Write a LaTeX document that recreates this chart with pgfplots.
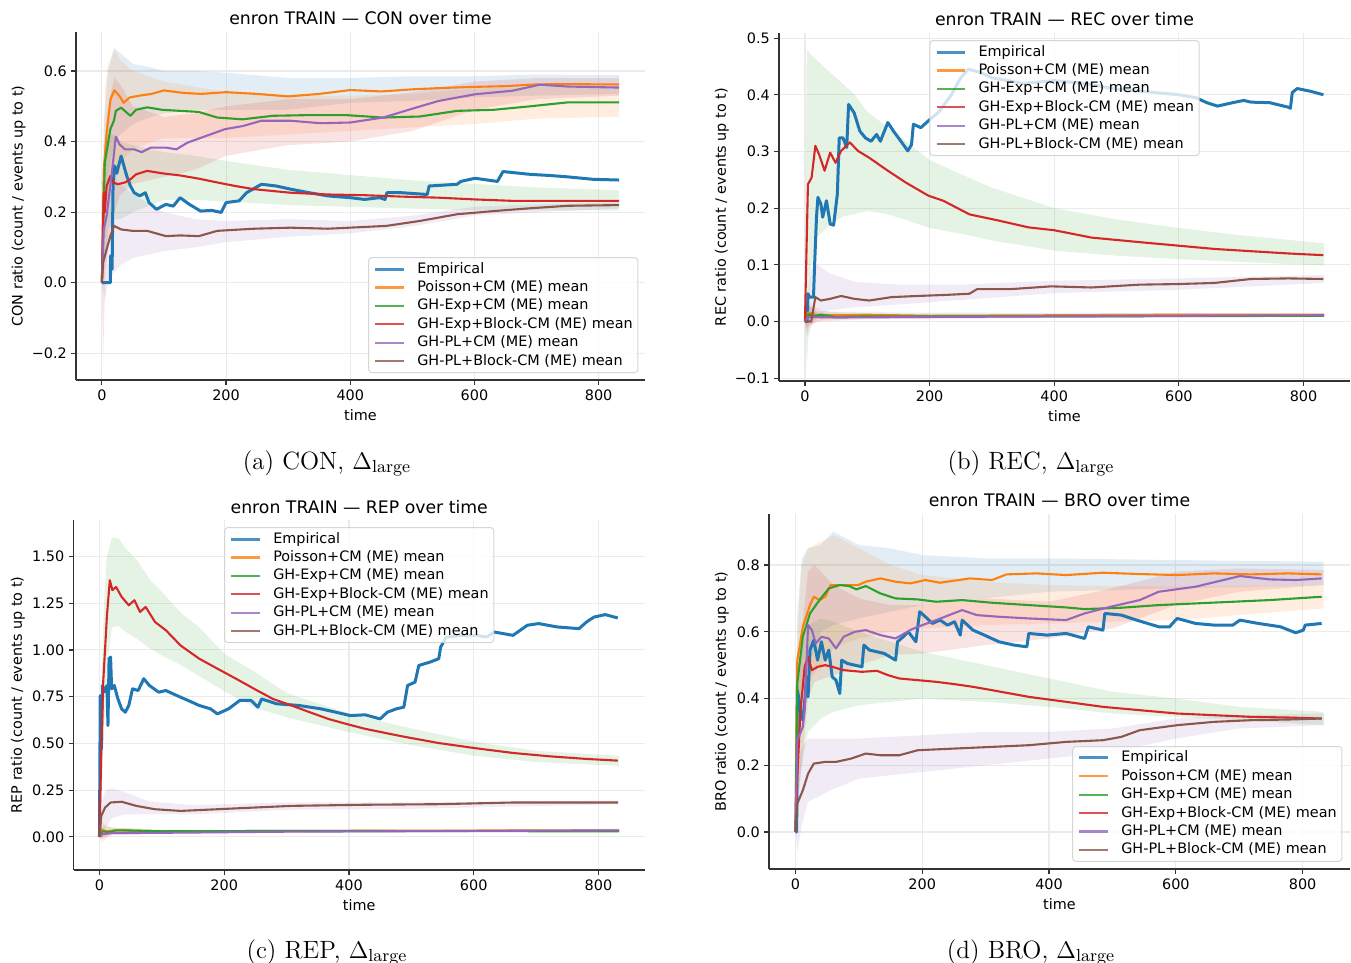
\documentclass[border=0pt]{standalone}
\usepackage{fontspec}
\usepackage{pgfplots}
\usepackage{pgfplotstable}
\pgfplotsset{compat=1.18}
\usepgfplotslibrary{fillbetween}
\newfontfamily\mpl{DejaVu Sans}

\definecolor{c0}{HTML}{1F77B4}
\definecolor{c1}{HTML}{FF7F0E}
\definecolor{c2}{HTML}{2CA02C}
\definecolor{c3}{HTML}{D62728}
\definecolor{c4}{HTML}{9467BD}
\definecolor{c5}{HTML}{8C564B}

\newcommand{\mplsize}{\mpl\fontsize{7.2}{8.6}\selectfont}

% ---------------- CON ----------------
\pgfplotstableread[row sep=\\]{
x y\\ 0 0\\ 13.7 0\\ 14 0.076\\ 16.5 0.038\\ 18 0.274\\ 20.5 0.331\\ 24 0.31\\ 31 0.359\\ 35.5 0.331\\ 40 0.303\\ 46 0.274\\ 52 0.255\\ 61 0.246\\ 70 0.255\\ 76 0.227\\ 88 0.208\\ 103 0.222\\ 115 0.217\\ 126 0.241\\ 141 0.222\\ 159 0.203\\ 177 0.205\\ 192 0.199\\ 200 0.227\\ 221 0.232\\ 233 0.255\\ 257 0.279\\ 281 0.274\\ 304 0.265\\ 334 0.255\\ 364 0.246\\ 400 0.241\\ 423 0.236\\ 447 0.241\\ 456 0.236\\ 459 0.255\\ 483 0.255\\ 524 0.250\\ 527 0.274\\ 572 0.279\\ 578 0.287\\ 601 0.296\\ 637 0.287\\ 646 0.315\\ 690 0.307\\ 720 0.304\\ 750 0.300\\ 791 0.293\\ 833 0.291\\
}\aEmp
\pgfplotstableread[row sep=\\]{
x y\\ 0 0\\ 3 0.32\\ 8 0.43\\ 14 0.52\\ 20 0.545\\ 28 0.53\\ 35 0.51\\ 45 0.525\\ 60 0.53\\ 80 0.535\\ 100 0.545\\ 130 0.538\\ 160 0.535\\ 200 0.54\\ 250 0.535\\ 300 0.528\\ 350 0.535\\ 400 0.546\\ 450 0.542\\ 500 0.548\\ 550 0.552\\ 600 0.555\\ 650 0.557\\ 700 0.562\\ 750 0.563\\ 800 0.562\\ 833 0.562\\
}\aPois
\pgfplotstableread[row sep=\\]{
x lo hi\\ 0 0 0\\ 3 0.15 0.45\\ 10 0.30 0.60\\ 20 0.40 0.665\\ 30 0.42 0.65\\ 50 0.45 0.62\\ 80 0.47 0.61\\ 100 0.48 0.60\\ 150 0.49 0.60\\ 200 0.49 0.595\\ 300 0.49 0.58\\ 400 0.51 0.58\\ 500 0.515 0.585\\ 600 0.525 0.585\\ 700 0.53 0.59\\ 833 0.535 0.588\\
}\aPoisB
\pgfplotstableread[row sep=\\]{
x y\\ 0 0\\ 4.7 0.34\\ 13.7 0.435\\ 19.6 0.46\\ 22.5 0.487\\ 31 0.496\\ 46 0.473\\ 55 0.49\\ 73 0.497\\ 97 0.49\\ 126 0.487\\ 156 0.484\\ 186 0.468\\ 227 0.463\\ 275 0.473\\ 334 0.475\\ 393 0.475\\ 453 0.468\\ 512 0.471\\ 572 0.487\\ 631 0.49\\ 690 0.50\\ 750 0.511\\ 833 0.511\\
}\aExp
\pgfplotstableread[row sep=\\]{
x lo hi\\ 0 0 0\\ 5 0.1 0.55\\ 10 0.25 0.62\\ 20 0.30 0.66\\ 30 0.34 0.63\\ 50 0.38 0.60\\ 100 0.41 0.57\\ 200 0.41 0.54\\ 300 0.42 0.53\\ 400 0.43 0.53\\ 500 0.44 0.535\\ 600 0.45 0.55\\ 700 0.465 0.555\\ 833 0.47 0.56\\
}\aExpB
\pgfplotstableread[row sep=\\]{
x y\\ 0 0\\ 3 0.255\\ 4.7 0.20\\ 7.7 0.274\\ 13.7 0.303\\ 18.4 0.284\\ 25.5 0.279\\ 37 0.284\\ 46 0.293\\ 55 0.307\\ 73 0.317\\ 97 0.31\\ 126 0.304\\ 156 0.295\\ 186 0.284\\ 215 0.274\\ 245 0.265\\ 304 0.255\\ 364 0.25\\ 423 0.248\\ 483 0.244\\ 542 0.241\\ 601 0.236\\ 661 0.232\\ 720 0.232\\ 833 0.232\\
}\aExpBl
\pgfplotstableread[row sep=\\]{
x lo hi\\ 0 0 0\\ 5 0.05 0.40\\ 10 0.15 0.42\\ 20 0.18 0.42\\ 30 0.18 0.40\\ 50 0.20 0.39\\ 100 0.235 0.37\\ 150 0.235 0.36\\ 200 0.23 0.345\\ 300 0.22 0.32\\ 400 0.215 0.305\\ 500 0.21 0.29\\ 600 0.205 0.28\\ 700 0.205 0.27\\ 833 0.205 0.262\\
}\aExpBlB
\pgfplotstableread[row sep=\\]{
x y\\ 0 0\\ 3 0.15\\ 7.7 0.189\\ 16.6 0.32\\ 22.5 0.414\\ 28.5 0.392\\ 37 0.378\\ 52 0.378\\ 64 0.37\\ 79 0.383\\ 103 0.383\\ 120 0.378\\ 138 0.397\\ 168 0.416\\ 198 0.435\\ 227 0.444\\ 257 0.459\\ 304 0.459\\ 352 0.452\\ 400 0.454\\ 453 0.468\\ 494 0.49\\ 542 0.515\\ 601 0.534\\ 661 0.544\\ 705 0.561\\ 750 0.556\\ 833 0.553\\
}\aPL
\pgfplotstableread[row sep=\\]{
x lo hi\\ 0 0 0\\ 2 -0.23 0.3\\ 5 0.0 0.4\\ 10 0.1 0.5\\ 20 0.2 0.58\\ 30 0.25 0.56\\ 50 0.28 0.50\\ 100 0.30 0.47\\ 150 0.32 0.48\\ 200 0.36 0.50\\ 300 0.39 0.52\\ 400 0.40 0.52\\ 500 0.43 0.54\\ 600 0.49 0.57\\ 700 0.52 0.58\\ 833 0.53 0.58\\
}\aPLB
\pgfplotstableread[row sep=\\]{
x y\\ 0 0\\ 2 0.057\\ 7.7 0.095\\ 13.7 0.132\\ 19.6 0.161\\ 31 0.151\\ 49 0.147\\ 73 0.147\\ 103 0.132\\ 126 0.134\\ 156 0.132\\ 186 0.147\\ 245 0.153\\ 304 0.156\\ 364 0.153\\ 423 0.158\\ 458 0.161\\ 512 0.175\\ 572 0.194\\ 631 0.203\\ 690 0.211\\ 750 0.218\\ 833 0.22\\
}\aPLBl
\pgfplotstableread[row sep=\\]{
x lo hi\\ 0 0 0\\ 5 -0.05 0.25\\ 10 0.0 0.30\\ 20 0.03 0.30\\ 30 0.05 0.28\\ 50 0.07 0.25\\ 100 0.09 0.20\\ 150 0.10 0.18\\ 200 0.115 0.175\\ 300 0.13 0.18\\ 400 0.14 0.175\\ 500 0.16 0.19\\ 600 0.19 0.215\\ 700 0.20 0.222\\ 833 0.21 0.228\\
}\aPLBlB

% ---------------- REC ----------------
\pgfplotstableread[row sep=\\]{
x y\\ 0 0\\ 3.5 0\\ 4.8 0.049\\ 7.7 0.043\\ 13.7 0.043\\ 15.5 0.10\\ 18.5 0.184\\ 20.8 0.219\\ 25.6 0.207\\ 28.5 0.184\\ 34.5 0.213\\ 40.5 0.172\\ 46 0.170\\ 52 0.225\\ 55 0.324\\ 61 0.324\\ 67 0.307\\ 70 0.383\\ 79 0.368\\ 88 0.336\\ 97 0.324\\ 106 0.318\\ 115 0.330\\ 121 0.318\\ 133 0.351\\ 142 0.336\\ 154 0.318\\ 165 0.301\\ 171 0.312\\ 174 0.348\\ 186 0.342\\ 198 0.354\\ 215 0.37\\ 235 0.40\\ 250 0.43\\ 262 0.445\\ 280 0.44\\ 300 0.43\\ 350 0.42\\ 400 0.425\\ 450 0.42\\ 500 0.41\\ 550 0.405\\ 600 0.40\\ 627 0.395\\ 645 0.386\\ 662 0.38\\ 686 0.386\\ 704 0.39\\ 716 0.387\\ 746 0.386\\ 776 0.378\\ 779 0.376\\ 782 0.404\\ 790 0.411\\ 812 0.406\\ 832 0.40\\
}\bEmp
\pgfplotstableread[row sep=\\]{
x y\\ 0 0\\ 4.8 0.016\\ 20 0.011\\ 60 0.011\\ 97 0.012\\ 200 0.010\\ 400 0.011\\ 600 0.012\\ 833 0.012\\
}\bPois
\pgfplotstableread[row sep=\\]{
x lo hi\\ 0 0 0\\ 5 0.0 0.03\\ 20 0.005 0.018\\ 100 0.008 0.016\\ 833 0.010 0.014\\
}\bPoisB
\pgfplotstableread[row sep=\\]{
x y\\ 0 0\\ 4.8 0.013\\ 13.7 0.009\\ 25.6 0.012\\ 49 0.008\\ 100 0.009\\ 400 0.009\\ 833 0.010\\
}\bExp
\pgfplotstableread[row sep=\\]{
x lo hi\\ 0 0 0\\ 3 -0.02 0.04\\ 10 -0.005 0.03\\ 30 0.003 0.018\\ 100 0.006 0.013\\ 833 0.008 0.012\\
}\bExpB
\pgfplotstableread[row sep=\\]{
x y\\ 0 0\\ 4.8 0.242\\ 10.7 0.254\\ 16.7 0.31\\ 22.6 0.295\\ 31.5 0.266\\ 40.5 0.298\\ 49 0.28\\ 58 0.301\\ 72 0.316\\ 85 0.301\\ 103 0.289\\ 133 0.266\\ 162 0.245\\ 198 0.222\\ 222 0.213\\ 264 0.189\\ 311 0.178\\ 359 0.166\\ 400 0.161\\ 460 0.148\\ 537 0.14\\ 597 0.134\\ 657 0.128\\ 716 0.124\\ 776 0.12\\ 832 0.117\\
}\bExpBl
\pgfplotstableread[row sep=\\]{
x lo hi\\ 0 0 0\\ 3 -0.08 0.48\\ 10 0.10 0.47\\ 20 0.15 0.46\\ 40 0.17 0.44\\ 60 0.185 0.42\\ 80 0.19 0.40\\ 100 0.195 0.37\\ 130 0.19 0.345\\ 160 0.18 0.32\\ 200 0.165 0.285\\ 250 0.155 0.26\\ 300 0.143 0.236\\ 400 0.125 0.20\\ 500 0.116 0.18\\ 600 0.11 0.165\\ 700 0.105 0.152\\ 833 0.099 0.138\\
}\bExpBlB
\pgfplotstableread[row sep=\\]{
x y\\ 0 0\\ 4.8 0.008\\ 50 0.007\\ 200 0.008\\ 400 0.009\\ 600 0.010\\ 833 0.011\\
}\bPL
\pgfplotstableread[row sep=\\]{
x lo hi\\ 0 0 0\\ 3 -0.01 0.03\\ 20 0.0 0.015\\ 100 0.004 0.011\\ 833 0.009 0.013\\
}\bPLB
\pgfplotstableread[row sep=\\]{
x y\\ 0 0\\ 10 0.0\\ 16.7 0.043\\ 25.6 0.037\\ 40.5 0.04\\ 58 0.045\\ 79 0.04\\ 103 0.037\\ 139 0.043\\ 180 0.045\\ 228 0.047\\ 264 0.049\\ 276 0.057\\ 329 0.057\\ 395 0.062\\ 460 0.06\\ 537 0.065\\ 597 0.066\\ 657 0.068\\ 716 0.075\\ 776 0.076\\ 832 0.075\\
}\bPLBl
\pgfplotstableread[row sep=\\]{
x lo hi\\ 0 0 0\\ 5 -0.03 0.05\\ 10 -0.01 0.09\\ 20 0.01 0.10\\ 40 0.02 0.085\\ 80 0.025 0.07\\ 150 0.03 0.065\\ 250 0.038 0.065\\ 400 0.05 0.072\\ 600 0.056 0.076\\ 833 0.068 0.082\\
}\bPLBlB

% ---------------- REP ----------------
\pgfplotstableread[row sep=\\]{
x y\\ 0 0.0\\ 0.6 0.345\\ 1.2 0.756\\ 3 0.47\\ 4.7 0.81\\ 7 0.774\\ 12 0.81\\ 13.6 0.595\\ 15.4 0.953\\ 17.8 0.962\\ 19.5 0.792\\ 23.7 0.81\\ 29.6 0.738\\ 35.5 0.685\\ 41.4 0.667\\ 47 0.703\\ 53 0.792\\ 62 0.783\\ 71 0.846\\ 80 0.81\\ 95 0.774\\ 106.5 0.783\\ 124 0.756\\ 142 0.73\\ 160 0.703\\ 178 0.685\\ 189 0.658\\ 207 0.685\\ 225 0.73\\ 243 0.73\\ 254 0.694\\ 260 0.738\\ 284 0.712\\ 320 0.703\\ 355 0.685\\ 379 0.667\\ 402 0.649\\ 426 0.653\\ 450 0.631\\ 461.5 0.667\\ 476 0.685\\ 488 0.694\\ 494 0.81\\ 506 0.828\\ 512 0.917\\ 530 0.935\\ 544 0.953\\ 547 1.015\\ 556 1.069\\ 580 1.078\\ 604 1.078\\ 621 1.069\\ 633 1.096\\ 663 1.078\\ 686 1.132\\ 704 1.141\\ 734 1.123\\ 769 1.114\\ 781 1.15\\ 793 1.176\\ 811 1.189\\ 831 1.171\\
}\cEmp
\pgfplotstableread[row sep=\\]{
x y\\ 0 0\\ 3 0.04\\ 10 0.03\\ 30 0.035\\ 100 0.03\\ 300 0.032\\ 600 0.034\\ 833 0.035\\
}\cPois
\pgfplotstableread[row sep=\\]{
x lo hi\\ 0 0 0\\ 5 0.0 0.06\\ 20 0.02 0.05\\ 100 0.025 0.038\\ 833 0.032 0.038\\
}\cPoisB
\pgfplotstableread[row sep=\\]{
x y\\ 0 0\\ 5 0.03\\ 15 0.025\\ 25 0.035\\ 40 0.035\\ 100 0.03\\ 300 0.032\\ 833 0.03\\
}\cExp
\pgfplotstableread[row sep=\\]{
x lo hi\\ 0 0 0\\ 3 -0.03 0.08\\ 20 0.015 0.05\\ 100 0.025 0.036\\ 833 0.027 0.033\\
}\cExpB
\pgfplotstableread[row sep=\\]{
x y\\ 0 0\\ 3 0.47\\ 6 0.83\\ 12 1.185\\ 16.6 1.373\\ 20.7 1.32\\ 26.6 1.337\\ 35.5 1.284\\ 47 1.239\\ 56 1.266\\ 65 1.203\\ 74 1.23\\ 89 1.15\\ 106.5 1.105\\ 130 1.024\\ 160 0.953\\ 189 0.90\\ 219 0.846\\ 248 0.792\\ 278 0.738\\ 308 0.703\\ 337 0.667\\ 367 0.631\\ 396 0.604\\ 426 0.578\\ 485 0.538\\ 544 0.502\\ 604 0.474\\ 663 0.449\\ 722 0.431\\ 781 0.417\\ 831 0.408\\
}\cExpBl
\pgfplotstableread[row sep=\\]{
x lo hi\\ 0 0 0\\ 3 0.2 0.8\\ 8 0.6 1.3\\ 12 0.9 1.5\\ 20 1.12 1.6\\ 30 1.13 1.6\\ 40 1.10 1.55\\ 60 1.06 1.48\\ 80 1.01 1.38\\ 100 0.97 1.31\\ 130 0.92 1.20\\ 160 0.86 1.12\\ 200 0.78 0.98\\ 250 0.69 0.88\\ 300 0.64 0.77\\ 400 0.56 0.66\\ 500 0.49 0.58\\ 600 0.435 0.51\\ 700 0.40 0.46\\ 833 0.38 0.434\\
}\cExpBlB
\pgfplotstableread[row sep=\\]{
x y\\ 0 0\\ 5 0.015\\ 20 0.02\\ 100 0.022\\ 300 0.028\\ 600 0.032\\ 833 0.035\\
}\cPL
\pgfplotstableread[row sep=\\]{
x lo hi\\ 0 0 0\\ 5 -0.01 0.04\\ 20 0.01 0.03\\ 100 0.018 0.027\\ 833 0.032 0.038\\
}\cPLB
\pgfplotstableread[row sep=\\]{
x y\\ 0 0\\ 3 0.113\\ 9 0.157\\ 17.8 0.184\\ 35.5 0.188\\ 59 0.166\\ 89 0.148\\ 130 0.139\\ 189 0.148\\ 248 0.157\\ 308 0.166\\ 426 0.172\\ 544 0.175\\ 663 0.184\\ 831 0.184\\
}\cPLBl
\pgfplotstableread[row sep=\\]{
x lo hi\\ 0 0 0\\ 5 0.0 0.2\\ 10 0.05 0.25\\ 20 0.10 0.26\\ 40 0.12 0.24\\ 80 0.12 0.19\\ 150 0.12 0.17\\ 300 0.145 0.185\\ 500 0.15 0.185\\ 833 0.175 0.195\\
}\cPLBlB

% ---------------- BRO ----------------
\pgfplotstableread[row sep=\\]{
x y\\ 0 0\\ 2 0.0\\ 3 0.425\\ 5 0.405\\ 8 0.36\\ 11.7 0.335\\ 15 0.40\\ 17.5 0.465\\ 20 0.405\\ 23 0.545\\ 29 0.575\\ 35 0.515\\ 41 0.57\\ 47 0.515\\ 52.6 0.545\\ 58 0.465\\ 64 0.455\\ 70 0.415\\ 73 0.515\\ 82 0.505\\ 93.5 0.50\\ 105 0.495\\ 108 0.56\\ 117 0.545\\ 128.6 0.54\\ 140 0.535\\ 158 0.515\\ 161 0.57\\ 170 0.585\\ 178 0.60\\ 190 0.57\\ 196 0.66\\ 205 0.645\\ 216 0.625\\ 228 0.635\\ 240 0.62\\ 251 0.63\\ 260 0.59\\ 263 0.635\\ 280 0.605\\ 298 0.59\\ 321 0.57\\ 345 0.56\\ 365 0.555\\ 368 0.595\\ 397 0.59\\ 427 0.595\\ 456 0.58\\ 462 0.615\\ 485 0.605\\ 488 0.655\\ 514 0.65\\ 538 0.635\\ 573 0.615\\ 590 0.615\\ 602 0.64\\ 631 0.625\\ 660 0.62\\ 690 0.62\\ 701 0.635\\ 730 0.625\\ 765 0.615\\ 789 0.597\\ 801 0.605\\ 804 0.62\\ 830 0.625\\
}\dEmp
\pgfplotstableread[row sep=\\]{
x y\\ 0 0\\ 3 0.515\\ 11.7 0.615\\ 23 0.68\\ 29 0.705\\ 38 0.695\\ 47 0.705\\ 55.5 0.74\\ 76 0.74\\ 99 0.74\\ 111 0.75\\ 134 0.76\\ 158 0.75\\ 181 0.745\\ 205 0.755\\ 228 0.747\\ 275 0.76\\ 310 0.755\\ 333 0.772\\ 380 0.775\\ 427 0.77\\ 485 0.777\\ 543 0.773\\ 602 0.77\\ 660 0.775\\ 719 0.772\\ 777 0.775\\ 830 0.772\\
}\dPois
\pgfplotstableread[row sep=\\]{
x lo hi\\ 0 0 0\\ 3 0.3 0.65\\ 10 0.45 0.82\\ 20 0.50 0.85\\ 40 0.60 0.86\\ 60 0.62 0.90\\ 100 0.64 0.86\\ 150 0.66 0.85\\ 200 0.68 0.83\\ 300 0.70 0.82\\ 400 0.72 0.82\\ 600 0.73 0.815\\ 833 0.74 0.81\\
}\dPoisB
\pgfplotstableread[row sep=\\]{
x y\\ 0 0\\ 3 0.445\\ 11.7 0.585\\ 23 0.655\\ 38 0.695\\ 52.6 0.73\\ 70 0.74\\ 85 0.737\\ 96 0.727\\ 111 0.737\\ 134 0.715\\ 158 0.70\\ 193 0.697\\ 222 0.69\\ 263 0.695\\ 310 0.687\\ 368 0.68\\ 427 0.673\\ 456 0.668\\ 514 0.672\\ 573 0.68\\ 631 0.685\\ 690 0.69\\ 748 0.695\\ 830 0.705\\
}\dExp
\pgfplotstableread[row sep=\\]{
x lo hi\\ 0 0 0\\ 3 0.25 0.6\\ 10 0.40 0.80\\ 20 0.45 0.85\\ 40 0.50 0.87\\ 60 0.55 0.89\\ 100 0.58 0.85\\ 150 0.60 0.80\\ 200 0.61 0.77\\ 300 0.62 0.75\\ 400 0.625 0.74\\ 600 0.635 0.735\\ 833 0.67 0.74\\
}\dExpB
\pgfplotstableread[row sep=\\]{
x y\\ 0 0\\ 3 0.165\\ 8 0.365\\ 14.6 0.495\\ 20 0.525\\ 26 0.485\\ 35 0.495\\ 47 0.50\\ 58 0.495\\ 76 0.485\\ 105 0.48\\ 128.6 0.483\\ 146 0.47\\ 164 0.46\\ 193 0.455\\ 222 0.45\\ 251 0.443\\ 280 0.435\\ 310 0.425\\ 368 0.405\\ 427 0.39\\ 485 0.375\\ 543 0.365\\ 602 0.355\\ 660 0.35\\ 719 0.345\\ 777 0.343\\ 830 0.34\\
}\dExpBl
\pgfplotstableread[row sep=\\]{
x lo hi\\ 0 0 0\\ 3 0.05 0.4\\ 10 0.2 0.55\\ 20 0.3 0.62\\ 40 0.34 0.64\\ 60 0.36 0.63\\ 100 0.38 0.60\\ 150 0.39 0.57\\ 200 0.40 0.54\\ 300 0.39 0.50\\ 400 0.375 0.46\\ 500 0.355 0.42\\ 600 0.345 0.40\\ 700 0.335 0.375\\ 833 0.32 0.36\\
}\dExpBlB
\pgfplotstableread[row sep=\\]{
x y\\ 0 0\\ 3 0.275\\ 11.7 0.315\\ 14.6 0.365\\ 20 0.62\\ 26 0.605\\ 32 0.565\\ 41 0.585\\ 52.6 0.58\\ 64 0.55\\ 76 0.585\\ 93.5 0.60\\ 111 0.605\\ 134 0.59\\ 158 0.58\\ 181 0.605\\ 193 0.615\\ 222 0.635\\ 263 0.665\\ 286 0.65\\ 321 0.645\\ 368 0.64\\ 427 0.635\\ 456 0.655\\ 497 0.675\\ 543 0.695\\ 573 0.72\\ 631 0.735\\ 701 0.767\\ 748 0.757\\ 789 0.755\\ 830 0.76\\
}\dPL
\pgfplotstableread[row sep=\\]{
x lo hi\\ 0 0 0\\ 3 0.1 0.5\\ 10 0.2 0.6\\ 20 0.4 0.78\\ 30 0.45 0.80\\ 60 0.47 0.74\\ 100 0.50 0.70\\ 150 0.53 0.68\\ 200 0.535 0.68\\ 300 0.56 0.70\\ 400 0.58 0.69\\ 500 0.61 0.73\\ 600 0.68 0.78\\ 700 0.72 0.79\\ 833 0.74 0.785\\
}\dPLB
\pgfplotstableread[row sep=\\]{
x y\\ 0 0\\ 3 0.085\\ 11.7 0.125\\ 20 0.175\\ 29 0.205\\ 47 0.21\\ 64 0.21\\ 88 0.22\\ 111 0.235\\ 134 0.23\\ 164 0.23\\ 193 0.245\\ 251 0.25\\ 310 0.255\\ 368 0.26\\ 427 0.27\\ 485 0.275\\ 514 0.285\\ 543 0.305\\ 602 0.32\\ 660 0.33\\ 719 0.335\\ 777 0.337\\ 830 0.34\\
}\dPLBl
\pgfplotstableread[row sep=\\]{
x lo hi\\ 0 0 0\\ 3 -0.06 0.2\\ 10 0.02 0.25\\ 20 0.09 0.28\\ 50 0.12 0.28\\ 100 0.16 0.28\\ 200 0.18 0.29\\ 300 0.20 0.30\\ 400 0.22 0.30\\ 500 0.24 0.31\\ 600 0.28 0.34\\ 700 0.31 0.35\\ 833 0.32 0.355\\
}\dPLBlB

\pgfplotsset{
  legend image code/.code={\draw[#1] (0pt,0pt) -- (14.4pt,0pt); \path (20.2pt,0pt);},
  emp/.style={c0, line width=1.5pt, line join=round},
  mean/.style={#1, line width=1.05pt, line join=round},
  panel/.style={
    scale only axis,
    xmin=-41.65, xmax=874.65,
    xtick={0,200,400,600,800},
    xticklabels={0,200,400,600,800},
    axis x line*=bottom, axis y line*=left,
    axis line style={black!80, line width=0.58pt, -},
    tick style={black!80, line width=0.58pt},
    tick align=outside, major tick length=2.4pt,
    grid=major, major grid style={black!8, line width=0.55pt},
    ticklabel style={font=\mplsize},
    xticklabel style={anchor=north, inner sep=0pt, yshift=-2.5pt},
    yticklabel style={anchor=east, inner sep=0pt, xshift=-2pt},
    xlabel={time},
    every axis x label/.style={font=\mplsize, at={(axis description cs:0.5,0)}, anchor=base, yshift=-20pt},
    every axis y label/.style={font=\mplsize, rotate=90, anchor=center},
    every axis title/.style={font=\mpl\fontsize{8.64}{10}\selectfont, at={(axis description cs:0.5,1)}, anchor=base, yshift=3.5pt},
    legend cell align=left,
    legend style={draw=black!20, line width=0.5pt, rounded corners=1.5pt,
      fill=white, fill opacity=0.8, draw opacity=0.8, text opacity=1,
      font=\mplsize, inner xsep=2.6pt, inner ysep=1.1pt, row sep=0pt,
      nodes={inner xsep=0pt, inner ysep=1.2pt, text height=5.4pt, text depth=1.4pt}},
  },
}

% shaded spread around a model mean
\newcommand{\band}[3]{%
  \addplot[draw=none, forget plot, name path=#3lo] table[x=x, y=lo] {#1};
  \addplot[draw=none, forget plot, name path=#3hi] table[x=x, y=hi] {#1};
  \addplot[fill=#2, fill opacity=0.13, draw=none, forget plot] fill between[of=#3lo and #3hi];
}

% empirical curve and the five model means
\newcommand{\drawseries}[6]{%
  \addplot[emp] table {#1}; \addlegendentry{Empirical}
  \addplot[mean=c1] table {#2}; \addlegendentry{Poisson+CM (ME) mean}
  \addplot[mean=c2] table {#3}; \addlegendentry{GH-Exp+CM (ME) mean}
  \addplot[mean=c3] table {#4}; \addlegendentry{GH-Exp+Block-CM (ME) mean}
  \addplot[mean=c4] table {#5}; \addlegendentry{GH-PL+CM (ME) mean}
  \addplot[mean=c5] table {#6}; \addlegendentry{GH-PL+Block-CM (ME) mean}
}

\begin{document}
\begin{tikzpicture}

% (a) CON
\begin{axis}[panel, at={(38pt,-190pt)}, anchor=south west,
  width=284.5pt, height=174pt,
  ymin=-0.2757, ymax=0.7105,
  ytick={-0.2,0,0.2,0.4,0.6}, yticklabels={−0.2,0.0,0.2,0.4,0.6},
  title={enron TRAIN — CON over time},
  ylabel={CON ratio (count / events up to t)},
  ylabel style={at={(axis description cs:-0.101,0.5)}},
  legend style={at={(axis description cs:1,0)}, anchor=south east, xshift=-3.3pt, yshift=3.5pt}]
\band{\aPoisB}{c0}{aA}
\band{\aExpB}{c1}{aB}
\band{\aExpBlB}{c2}{aC}
\band{\aPLB}{c3}{aD}
\band{\aPLBlB}{c4}{aE}
\drawseries{\aEmp}{\aPois}{\aExp}{\aExpBl}{\aPL}{\aPLBl}
\end{axis}

% (b) REC
\begin{axis}[panel, at={(389.5pt,-190.5pt)}, anchor=south west,
  width=285.5pt, height=174pt,
  ymin=-0.105, ymax=0.509,
  ytick={-0.1,0,0.1,0.2,0.3,0.4,0.5}, yticklabels={−0.1,0.0,0.1,0.2,0.3,0.4,0.5},
  title={enron TRAIN — REC over time},
  ylabel={REC ratio (count / events up to t)},
  ylabel style={at={(axis description cs:-0.0998,0.5)}},
  legend style={at={(axis description cs:0.5,1)}, anchor=north, yshift=-3.6pt}]
\band{\bPoisB}{c0}{bA}
\band{\bExpB}{c1}{bB}
\band{\bExpBlB}{c2}{bC}
\band{\bPLB}{c3}{bD}
\band{\bPLBlB}{c4}{bE}
\drawseries{\bEmp}{\bPois}{\bExp}{\bExpBl}{\bPL}{\bPLBl}
\end{axis}

% (c) REP
\begin{axis}[panel, at={(36.75pt,-435pt)}, anchor=south west,
  width=285.75pt, height=175pt,
  ymin=-0.177, ymax=1.695,
  ytick={0,0.25,0.5,0.75,1,1.25,1.5}, yticklabels={0.00,0.25,0.50,0.75,1.00,1.25,1.50},
  title={enron TRAIN — REP over time},
  ylabel={REP ratio (count / events up to t)},
  ylabel style={at={(axis description cs:-0.0971,0.5)}},
  legend style={at={(axis description cs:0.5,1)}, anchor=north, yshift=-3.6pt}]
\band{\cPoisB}{c0}{cA}
\band{\cExpB}{c1}{cB}
\band{\cExpBlB}{c2}{cC}
\band{\cPLB}{c3}{cD}
\band{\cPLBlB}{c4}{cE}
\drawseries{\cEmp}{\cPois}{\cExp}{\cExpBl}{\cPL}{\cPLBl}
\end{axis}

% (d) BRO
\begin{axis}[panel, at={(384.5pt,-434.5pt)}, anchor=south west,
  width=290.5pt, height=177.5pt,
  ymin=-0.111, ymax=0.953,
  ytick={0,0.2,0.4,0.6,0.8}, yticklabels={0.0,0.2,0.4,0.6,0.8},
  title={enron TRAIN — BRO over time},
  ylabel={BRO ratio (count / events up to t)},
  ylabel style={at={(axis description cs:-0.0809,0.5)}},
  legend style={at={(axis description cs:1,0)}, anchor=south east, xshift=-3.8pt, yshift=3.6pt}]
\band{\dPoisB}{c0}{dA}
\band{\dExpB}{c1}{dB}
\band{\dExpBlB}{c2}{dC}
\band{\dPLB}{c3}{dD}
\band{\dPLBlB}{c4}{dE}
\drawseries{\dEmp}{\dPois}{\dExp}{\dExpBl}{\dPL}{\dPLBl}
\end{axis}

\node[anchor=base, font=\fontsize{12.5}{14}\selectfont] at (163.5pt,-234.5pt) {(a) CON, $\Delta_{\mathrm{large}}$};
\node[anchor=base, font=\fontsize{12.5}{14}\selectfont] at (515.5pt,-234.5pt) {(b) REC, $\Delta_{\mathrm{large}}$};
\node[anchor=base, font=\fontsize{12.5}{14}\selectfont] at (163.5pt,-479pt) {(c) REP, $\Delta_{\mathrm{large}}$};
\node[anchor=base, font=\fontsize{12.5}{14}\selectfont] at (515.5pt,-479pt) {(d) BRO, $\Delta_{\mathrm{large}}$};

% fixed page frame
\pgfresetboundingbox
\useasboundingbox (0,0) rectangle (675.5pt,-481.5pt);
\end{tikzpicture}
\end{document}
